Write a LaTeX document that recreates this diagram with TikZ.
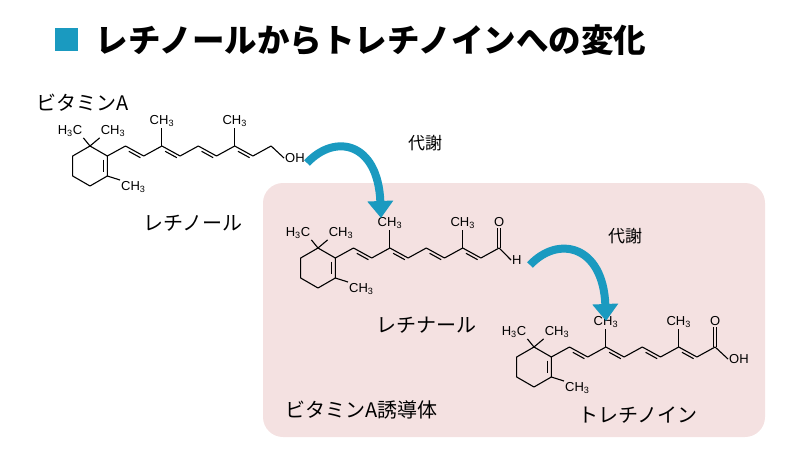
\documentclass[tikz,border=0pt]{standalone}
\usepackage{fontspec}
\setmainfont{Noto Sans CJK JP}
\newfontfamily\chemfont{Liberation Sans}
\usetikzlibrary{calc,arrows.meta}
\definecolor{teal}{HTML}{1A9AC0}
\definecolor{pinkbg}{HTML}{F4E1E1}
\tikzset{
  grp/.style={font=\chemfont\fontsize{13}{13}\selectfont, inner sep=1pt},
  bond/.style={line width=1.1pt, line join=round},
  flow/.style={line width=8pt, teal, -{Triangle[length=17pt,width=25pt]}},
  jp/.style={font=\fontsize{20}{20}\selectfont}
}
\newcommand{\sub}[1]{\textsubscript{#1}}
% double bond: second line beside a--b
\newcommand{\dbl}[3]{\draw[bond] ($(#1)!.18!(#2)+#3$) -- ($(#2)!.18!(#1)+#3$);}
% retinoid skeleton, #1 prefix, #2 ring centre, #3 end group (1 OH, 2 CHO, 3 COOH)
\newcommand{\retinoid}[3]{
\begin{scope}[shift={#2}]
\coordinate (#1t) at (0,-20);
\coordinate (#1r1) at (17.32,-10);
\coordinate (#1r2) at (17.32,10);
\coordinate (#1bo) at (0,20);
\coordinate (#1l2) at (-17.32,10);
\coordinate (#1l1) at (-17.32,-10);
\coordinate (#1a1) at (35.5,-20);
\coordinate (#1a2) at (53.7,-10);
\coordinate (#1a3) at (71.9,-20);
\coordinate (#1a4) at (90.1,-10);
\coordinate (#1a5) at (108.3,-20);
\coordinate (#1a6) at (126.5,-10);
\coordinate (#1a7) at (144.7,-20);
\coordinate (#1a8) at (162.9,-10);
\coordinate (#1a9) at (181.1,-20);
\node[grp] (#1ma) at (-20,-35) {H\sub{3}C};
\node[grp] (#1mb) at (23,-35) {CH\sub{3}};
\node[grp, anchor=north west] (#1mc) at (30,14) {CH\sub{3}};
\node[grp] (#1m1) at (71.9,-45) {CH\sub{3}};
\node[grp] (#1m2) at (144.7,-45) {CH\sub{3}};
\draw[bond] (#1t) -- (#1r1) -- (#1r2) -- (#1bo) -- (#1l2) -- (#1l1) -- cycle;
\draw[bond] (#1ma.south east) -- (#1t) -- (#1mb.south west);
\draw[bond] (#1r2) -- (#1mc.north west);
\draw[bond] (#1r1) -- (#1a1) -- (#1a2) -- (#1a3) -- (#1a4) -- (#1a5)
  -- (#1a6) -- (#1a7) -- (#1a8) -- (#1a9);
\draw[bond] (#1a3) -- (#1m1);
\draw[bond] (#1a7) -- (#1m2);
\dbl{#1r1}{#1r2}{(-3.5,0)}
\dbl{#1a1}{#1a2}{(0,3.5)}
\dbl{#1a3}{#1a4}{(0,3.5)}
\dbl{#1a5}{#1a6}{(0,3.5)}
\dbl{#1a7}{#1a8}{(0,3.5)}
\ifcase#3\or
  \node[grp, anchor=west] (#1oh) at (194,-8) {OH};
  \draw[bond] (#1a9) -- (#1oh.west);
\or
  \node[grp] (#1o) at (181.1,-46) {O};
  \node[grp, anchor=west] (#1h) at (193,-8) {H};
  \draw[bond] ($(#1a9)+(-1.6,0)$) -- ($(#1o.south)+(-1.6,0)$);
  \draw[bond] ($(#1a9)+(1.6,0)$) -- ($(#1o.south)+(1.6,0)$);
  \draw[bond] (#1a9) -- (#1h.west);
\or
  \node[grp] (#1o) at (181.1,-46) {O};
  \node[grp, anchor=west] (#1oh) at (194,-8) {OH};
  \draw[bond] ($(#1a9)+(-1.6,0)$) -- ($(#1o.south)+(-1.6,0)$);
  \draw[bond] ($(#1a9)+(1.6,0)$) -- ($(#1o.south)+(1.6,0)$);
  \draw[bond] (#1a9) -- (#1oh.west);
\fi
\end{scope}
}

\begin{document}
\begin{tikzpicture}[x=1pt,y=-1pt]
\useasboundingbox (0,0) rectangle (800,450);

% derivative panel
\fill[pinkbg, rounded corners=20pt] (263,183) rectangle (765,437);

% heading
\fill[teal] (55,28) rectangle (78,51);
\node[anchor=west, font=\bfseries\fontsize{32.5}{32.5}\selectfont] (title) at (92,40)
  {レチノールからトレチノインへの変化};

% molecules
\retinoid{ret}{(90,166)}{1}
\retinoid{ral}{(318,268)}{2}
\retinoid{tre}{(534,367)}{3}

% captions
\node[jp, anchor=west] (vita) at (33,103) {ビタミンA};
\node[jp] (retname) at (193,223) {レチノール};
\node[jp] (ralname) at (426,325) {レチナール};
\node[jp] (trename) at (638,415) {トレチノイン};
\node[jp, anchor=west] (deriv) at (282,410) {ビタミンA誘導体};
\node[font=\fontsize{17}{17}\selectfont] (met1) at (425,143) {代謝};
\node[font=\fontsize{17}{17}\selectfont] (met2) at (625,236) {代謝};

% metabolic steps
\coordinate (s1) at (307,163);
\coordinate (e1) at (381,218);
\coordinate (s2) at (530,265);
\coordinate (e2) at (606,321);
\draw[flow] (s1) .. controls (335,133) and (378,142) .. (e1);
\draw[flow] (s2) .. controls (558,235) and (603,245) .. (e2);
\end{tikzpicture}
\end{document}
